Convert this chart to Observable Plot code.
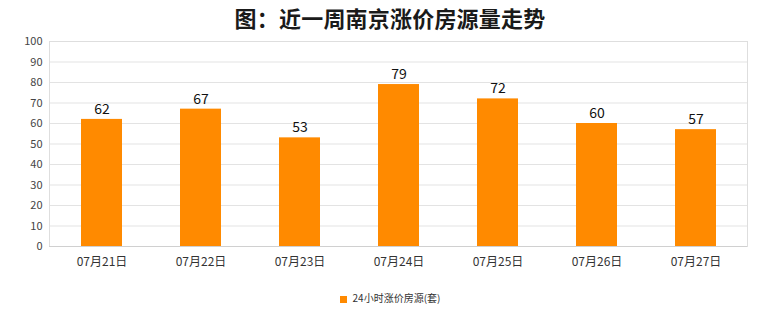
<!DOCTYPE html>
<html>
<head>
<meta charset="utf-8">
<script src="https://cdn.jsdelivr.net/npm/d3@7"></script>
<script src="https://cdn.jsdelivr.net/npm/@observablehq/plot@0.6"></script>
<style>
  body { margin: 0; background: #fff; font-family: "Noto Sans CJK SC", sans-serif; }
  #wrap { width: 780px; height: 328px; position: relative; }
  #title { height: 32px; line-height: 34px; text-align: center; font-size: 22px; font-weight: bold; color: #1a1a1a; letter-spacing: 0.2px; }
  #legend { position: absolute; top: 290px; left: 0; width: 780px; text-align: center; font-size: 10px; color: #333; }
  #legend span.sw { display: inline-block; width: 7px; height: 7px; background: #FF8A00; margin-right: 6px; vertical-align: middle; }
  svg { display: block; }
</style>
</head>
<body>
<div id="wrap">
  <div id="title">图：近一周南京涨价房源量走势</div>
  <div id="chart"></div>
  <div id="legend"><span class="sw"></span><span>24小时涨价房源(套)</span></div>
</div>
<script>
const dates = ["07月21日","07月22日","07月23日","07月24日","07月25日","07月26日","07月27日"];
const values = [62, 67, 53, 79, 72, 60, 57];
const yTicks = [0,10,20,30,40,50,60,70,80,90,100];
const seriesName = "24小时涨价房源(套)";

const data = dates.map((d, i) => ({date: d, value: values[i]}));

const chart = Plot.plot({
  width: 780,
  height: 248,
  marginTop: 9,
  marginBottom: 34,
  marginLeft: 49,
  marginRight: 33,
  style: {fontFamily: "'Noto Sans CJK SC', sans-serif", background: "#fff"},
  x: {domain: dates, paddingInner: 0.59, paddingOuter: 0.295, label: null, tickSize: 0, tickPadding: 11},
  y: {domain: [0, 100], ticks: yTicks, label: null, tickSize: 0, tickPadding: 7},
  marks: [
    Plot.gridY(yTicks, {stroke: "#e3e3e3", strokeOpacity: 1}),
    Plot.frame({stroke: "#dedede"}),
    Plot.barY(data, {x: "date", y: "value", fill: "#FF8A00"}),
    Plot.text(data, {x: "date", y: "value", text: d => String(d.value), dy: -10, fontSize: 14, fill: "#111"}),
    Plot.ruleY([0], {stroke: "#d0d0d0"}),
    Plot.axisY(yTicks, {tickSize: 0, tickPadding: 7, fontSize: 11, fill: "#444", label: null}),
    Plot.axisX({tickSize: 0, tickPadding: 11, fontSize: 12, fill: "#333", label: null})
  ]
});
document.getElementById("chart").appendChild(chart);
</script>
</body>
</html>
